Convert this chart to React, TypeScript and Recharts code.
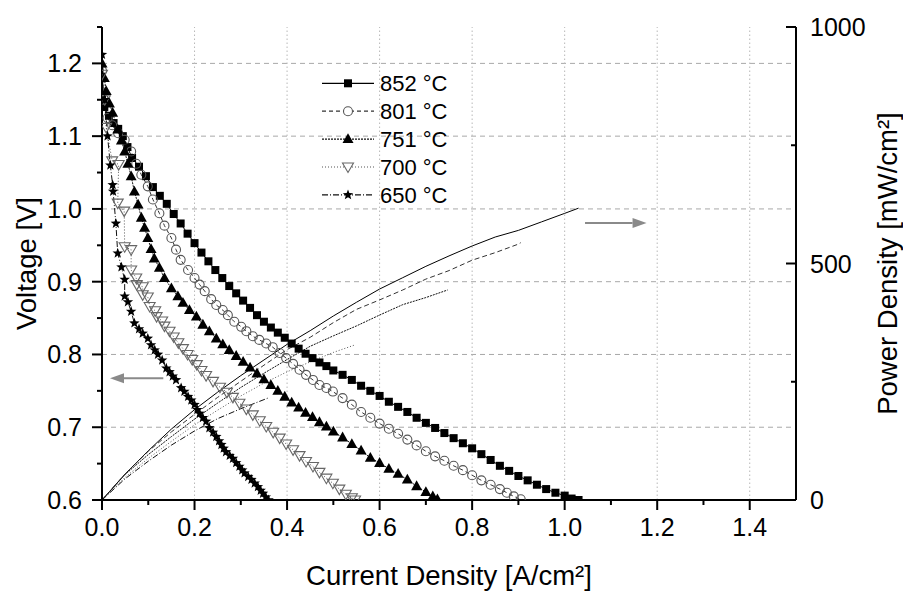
import React from 'react';
import { LineChart, Line, XAxis, YAxis, ReferenceLine, Legend } from 'recharts';

const FONT = '"Liberation Sans", Arial, Helvetica, sans-serif';

// ---- tick values ----
const jTicks = [0, 0.1, 0.2, 0.3, 0.4, 0.5, 0.6, 0.7, 0.8, 0.9, 1.0, 1.1, 1.2, 1.3, 1.4];
const vTicks = [0.6, 0.65, 0.7, 0.75, 0.8, 0.85, 0.9, 0.95, 1.0, 1.05, 1.1, 1.15, 1.2, 1.25];
const pTicks = [0, 250, 500, 750, 1000];
const vGrid = [0.7, 0.8, 0.9, 1.0, 1.1, 1.2];
const jGrid = [0.2, 0.4, 0.6, 0.8, 1.0, 1.2, 1.4];

// ---- voltage curves [current density A/cm², voltage V] ----
const v852 = [
  [0, 1.15], [0.005, 1.14], [0.015, 1.128], [0.025, 1.118], [0.035, 1.11], [0.045, 1.1], [0.055, 1.085],
  [0.065, 1.07], [0.08, 1.058], [0.095, 1.045], [0.11, 1.03], [0.125, 1.018], [0.14, 1.007], [0.155, 0.993],
  [0.17, 0.98], [0.185, 0.966], [0.2, 0.953], [0.215, 0.94], [0.23, 0.928], [0.245, 0.916], [0.26, 0.905],
  [0.275, 0.894], [0.29, 0.884], [0.305, 0.874], [0.32, 0.864], [0.335, 0.854], [0.35, 0.845], [0.365, 0.837],
  [0.38, 0.83], [0.395, 0.823], [0.41, 0.815], [0.425, 0.808], [0.44, 0.801], [0.455, 0.795], [0.47, 0.789],
  [0.485, 0.784], [0.5, 0.778], [0.52, 0.772], [0.54, 0.765], [0.56, 0.757], [0.58, 0.75], [0.6, 0.743],
  [0.62, 0.735], [0.64, 0.728], [0.66, 0.721], [0.68, 0.713], [0.7, 0.706], [0.72, 0.699], [0.74, 0.692],
  [0.76, 0.685], [0.78, 0.678], [0.8, 0.671], [0.82, 0.663], [0.84, 0.655], [0.86, 0.647], [0.88, 0.64],
  [0.9, 0.633], [0.92, 0.627], [0.94, 0.621], [0.96, 0.615], [0.98, 0.61], [1.0, 0.606], [1.015, 0.602], [1.03, 0.6],
];
const v801 = [
  [0, 1.19], [0.005, 1.15], [0.012, 1.125], [0.022, 1.115], [0.035, 1.104], [0.049, 1.095], [0.063, 1.079],
  [0.074, 1.062], [0.085, 1.047], [0.099, 1.031], [0.11, 1.013], [0.124, 0.994], [0.135, 0.977], [0.15, 0.96],
  [0.16, 0.944], [0.17, 0.93], [0.186, 0.916], [0.2, 0.905], [0.211, 0.896], [0.222, 0.887], [0.236, 0.876],
  [0.247, 0.868], [0.261, 0.861], [0.272, 0.854], [0.286, 0.845], [0.301, 0.838], [0.312, 0.832], [0.326, 0.825],
  [0.34, 0.82], [0.355, 0.815], [0.369, 0.81], [0.384, 0.802], [0.398, 0.795], [0.413, 0.787], [0.427, 0.779],
  [0.441, 0.772], [0.456, 0.765], [0.47, 0.758], [0.485, 0.754], [0.499, 0.749], [0.52, 0.74], [0.54, 0.731],
  [0.56, 0.721], [0.58, 0.713], [0.6, 0.705], [0.62, 0.698], [0.64, 0.691], [0.66, 0.683], [0.68, 0.675],
  [0.7, 0.667], [0.72, 0.66], [0.74, 0.654], [0.76, 0.647], [0.78, 0.641], [0.8, 0.634], [0.82, 0.627],
  [0.84, 0.621], [0.86, 0.615], [0.875, 0.61], [0.89, 0.605], [0.905, 0.601],
];
const v751 = [
  [0, 1.2], [0.005, 1.18], [0.009, 1.162], [0.016, 1.145], [0.023, 1.132], [0.034, 1.109], [0.042, 1.094],
  [0.049, 1.079], [0.056, 1.062], [0.063, 1.045], [0.07, 1.024], [0.078, 1.006], [0.085, 0.988], [0.092, 0.974],
  [0.099, 0.96], [0.106, 0.945], [0.113, 0.932], [0.124, 0.919], [0.135, 0.905], [0.15, 0.891], [0.164, 0.88],
  [0.175, 0.871], [0.189, 0.861], [0.204, 0.852], [0.218, 0.841], [0.232, 0.832], [0.247, 0.822], [0.261, 0.814],
  [0.275, 0.806], [0.29, 0.798], [0.305, 0.79], [0.32, 0.782], [0.335, 0.774], [0.35, 0.766], [0.365, 0.758],
  [0.38, 0.75], [0.395, 0.742], [0.41, 0.734], [0.425, 0.727], [0.44, 0.72], [0.455, 0.714], [0.47, 0.707],
  [0.485, 0.701], [0.5, 0.694], [0.52, 0.686], [0.54, 0.677], [0.56, 0.668], [0.58, 0.658], [0.6, 0.651],
  [0.62, 0.643], [0.64, 0.636], [0.66, 0.628], [0.68, 0.619], [0.7, 0.611], [0.715, 0.605], [0.725, 0.601],
];
const v700 = [
  [0, 1.185], [0.006, 1.15], [0.009, 1.112], [0.022, 1.066], [0.036, 1.061], [0.034, 1.008], [0.048, 0.997],
  [0.049, 0.948], [0.063, 0.944], [0.063, 0.916], [0.074, 0.905], [0.075, 0.896], [0.088, 0.893], [0.088, 0.882],
  [0.099, 0.879], [0.103, 0.866], [0.115, 0.86], [0.118, 0.852], [0.13, 0.846], [0.135, 0.839], [0.146, 0.832],
  [0.155, 0.824], [0.165, 0.816], [0.175, 0.808], [0.185, 0.8], [0.195, 0.793], [0.205, 0.786], [0.215, 0.778],
  [0.225, 0.771], [0.24, 0.763], [0.255, 0.755], [0.27, 0.748], [0.283, 0.741], [0.297, 0.733], [0.312, 0.725],
  [0.326, 0.717], [0.341, 0.709], [0.355, 0.701], [0.37, 0.693], [0.384, 0.685], [0.398, 0.677], [0.413, 0.669],
  [0.427, 0.661], [0.441, 0.653], [0.456, 0.646], [0.47, 0.638], [0.485, 0.63], [0.499, 0.623], [0.513, 0.615],
  [0.527, 0.608], [0.54, 0.603], [0.547, 0.6],
];
const v650 = [
  [0, 1.212], [0.006, 1.15], [0.012, 1.1], [0.018, 1.06], [0.023, 1.033], [0.024, 1.024], [0.03, 0.98],
  [0.034, 0.939], [0.042, 0.92], [0.049, 0.903], [0.049, 0.88], [0.056, 0.872], [0.063, 0.859], [0.07, 0.843],
  [0.08, 0.835], [0.088, 0.829], [0.099, 0.822], [0.106, 0.813], [0.114, 0.806], [0.121, 0.8], [0.13, 0.792],
  [0.139, 0.781], [0.146, 0.776], [0.153, 0.77], [0.16, 0.765], [0.171, 0.754], [0.178, 0.749], [0.186, 0.742],
  [0.193, 0.737], [0.2, 0.731], [0.206, 0.724], [0.211, 0.719], [0.218, 0.713], [0.225, 0.708], [0.232, 0.699],
  [0.24, 0.693], [0.247, 0.687], [0.253, 0.681], [0.258, 0.676], [0.263, 0.671], [0.268, 0.666], [0.276, 0.661],
  [0.283, 0.657], [0.29, 0.651], [0.297, 0.646], [0.303, 0.641], [0.308, 0.637], [0.316, 0.632], [0.323, 0.628],
  [0.33, 0.623], [0.337, 0.618], [0.343, 0.613], [0.348, 0.609], [0.354, 0.604], [0.36, 0.6],
];

// ---- power density curves [current density A/cm², power mW/cm²] ----
const p852 = [
  [0, 0], [0.05, 55], [0.1, 104], [0.15, 150], [0.2, 191], [0.25, 228], [0.3, 263], [0.35, 296], [0.4, 329],
  [0.45, 358], [0.5, 389], [0.55, 418], [0.6, 446], [0.65, 470], [0.7, 494], [0.75, 516], [0.8, 537], [0.85, 556],
  [0.9, 570], [0.95, 588], [1.0, 606], [1.03, 617],
];
const p801 = [
  [0, 0], [0.05, 55], [0.1, 103], [0.15, 144], [0.2, 181], [0.25, 217], [0.3, 251], [0.35, 285], [0.4, 318],
  [0.45, 344], [0.5, 375], [0.55, 403], [0.6, 423], [0.65, 444], [0.7, 467], [0.75, 485], [0.8, 507], [0.85, 523],
  [0.9, 541], [0.905, 544],
];
const p751 = [
  [0, 0], [0.05, 54], [0.1, 96], [0.15, 134], [0.2, 171], [0.25, 205], [0.3, 238], [0.35, 268], [0.4, 297],
  [0.45, 325], [0.5, 347], [0.55, 368], [0.6, 391], [0.65, 413], [0.7, 428], [0.747, 444],
];
const p700 = [
  [0, 0], [0.05, 48], [0.1, 88], [0.15, 124], [0.2, 159], [0.25, 190], [0.3, 220], [0.35, 247], [0.4, 271],
  [0.45, 292], [0.5, 312], [0.547, 328],
];
const p650 = [
  [0, 0], [0.05, 45], [0.1, 82], [0.15, 116], [0.2, 146], [0.25, 172], [0.3, 193], [0.36, 216],
];

// ---- annotation arrows (data coords on left axis) ----
const leftArrow = [{ x: 0.1325, y: 0.7674 }, { x: 0.0173, y: 0.7674 }];
const rightArrow = [{ x: 1.044, y: 0.9806 }, { x: 1.177, y: 0.9806 }];

const toVI = (arr: number[][]) => arr.map(([j, v]) => ({ j, v }));
const toP = (arr: number[][]) => arr.map(([j, p]) => ({ j, p }));

type MarkerKind = 'square' | 'circle' | 'triUp' | 'triDown' | 'star';

const SERIES: {
  name: string; vi: number[][]; pw: number[][]; marker: MarkerKind;
  lineColor: string; markerColor: string; dash?: string; pdash?: string;
}[] = [
  { name: '852 °C', vi: v852, pw: p852, marker: 'square', lineColor: '#000', markerColor: '#000', dash: undefined, pdash: undefined },
  { name: '801 °C', vi: v801, pw: p801, marker: 'circle', lineColor: '#333', markerColor: '#555', dash: '4 3', pdash: '5 3' },
  { name: '751 °C', vi: v751, pw: p751, marker: 'triUp', lineColor: '#111', markerColor: '#000', dash: '2 1', pdash: '2 1' },
  { name: '700 °C', vi: v700, pw: p700, marker: 'triDown', lineColor: '#555', markerColor: '#666', dash: '1 2', pdash: '1 2' },
  { name: '650 °C', vi: v650, pw: p650, marker: 'star', lineColor: '#111', markerColor: '#000', dash: '6 2 1 2', pdash: '6 2 1 2' },
];

function starPoints(cx: number, cy: number, ro: number, ri: number) {
  const pts: string[] = [];
  for (let i = 0; i < 10; i++) {
    const r = i % 2 === 0 ? ro : ri;
    const a = -Math.PI / 2 + (i * Math.PI) / 5;
    pts.push(`${cx + r * Math.cos(a)},${cy + r * Math.sin(a)}`);
  }
  return pts.join(' ');
}

function renderMarker(kind: MarkerKind, cx: number, cy: number, color: string, key: string, openFill: string) {
  if (cx == null || cy == null || isNaN(cx) || isNaN(cy)) return <g key={key} />;
  switch (kind) {
    case 'square':
      return <rect key={key} x={cx - 4} y={cy - 4} width={8} height={8} fill={color} />;
    case 'circle':
      return <circle key={key} cx={cx} cy={cy} r={4.5} fill={openFill} stroke={color} strokeWidth={1.1} />;
    case 'triUp':
      return <polygon key={key} points={`${cx},${cy - 5.8} ${cx + 5.5},${cy + 4} ${cx - 5.5},${cy + 4}`} fill={color} />;
    case 'triDown':
      return <polygon key={key} points={`${cx - 5.5},${cy - 4} ${cx + 5.5},${cy - 4} ${cx},${cy + 5.5}`} fill={openFill} stroke={color} strokeWidth={1.1} />;
    case 'star':
    default:
      return <polygon key={key} points={starPoints(cx, cy, 5.5, 2.3)} fill={color} />;
  }
}

const isMajorJ = (v: number) => Math.abs(v * 5 - Math.round(v * 5)) < 1e-6;
const isMajorV = (v: number) => Math.abs(v * 10 - Math.round(v * 10)) < 1e-6;

function XTick(props: any) {
  const { x, y, payload } = props;
  const major = isMajorJ(payload.value);
  return (
    <g>
      <line x1={x} x2={x} y1={y} y2={y + (major ? 10 : 5)} stroke="#000" strokeWidth={2} />
      {major && (
        <text x={x} y={y + 36} textAnchor="middle" fontSize={25} fontFamily={FONT} fill="#000">
          {payload.value.toFixed(1)}
        </text>
      )}
    </g>
  );
}

function LeftTick(props: any) {
  const { x, y, payload } = props;
  const major = isMajorV(payload.value);
  return (
    <g>
      <line x1={x} x2={x - (major ? 10 : 5)} y1={y} y2={y} stroke="#000" strokeWidth={2} />
      {major && (
        <text x={x - 20} y={y + 9} textAnchor="end" fontSize={25} fontFamily={FONT} fill="#000">
          {payload.value.toFixed(1)}
        </text>
      )}
    </g>
  );
}

function RightTick(props: any) {
  const { x, y, payload } = props;
  const major = payload.value % 500 === 0;
  return (
    <g>
      <line x1={x} x2={x - (major ? 10 : 5)} y1={y} y2={y} stroke="#000" strokeWidth={2} />
      {major && (
        <text x={x + 14} y={y + 9} textAnchor="start" fontSize={25} fontFamily={FONT} fill="#000">
          {payload.value}
        </text>
      )}
    </g>
  );
}

function ArrowShape(props: any) {
  const { x1, y1, x2, y2 } = props;
  const ang = Math.atan2(y2 - y1, x2 - x1);
  const hl = 14, hw = 5;
  const bx = x2 - hl * Math.cos(ang);
  const by = y2 - hl * Math.sin(ang);
  const px = -Math.sin(ang) * hw, py = Math.cos(ang) * hw;
  return (
    <g>
      <line x1={x1} y1={y1} x2={bx} y2={by} stroke="#8a8a8a" strokeWidth={2} />
      <polygon points={`${x2},${y2} ${bx + px},${by + py} ${bx - px},${by - py}`} fill="#8a8a8a" />
    </g>
  );
}

function LegendBox() {
  return (
    <svg width={170} height={145} style={{ display: 'block' }}>
      {SERIES.map((s, i) => {
        const y = 15.3 + i * 27.9;
        return (
          <g key={s.name}>
            <line x1={12} x2={64} y1={y} y2={y} stroke={s.lineColor} strokeWidth={1.2} strokeDasharray={s.dash} />
            {renderMarker(s.marker, 38, y, s.markerColor, 'lm' + i, '#fff')}
            <text x={70} y={y + 8} fontSize={22} fontFamily={FONT} fill="#000">{s.name}</text>
          </g>
        );
      })}
    </svg>
  );
}

const titleStyle = { fontSize: 27.5, fontFamily: FONT, fill: '#000' };

export default function App() {
  return (
    <div style={{ position: 'absolute', left: 0, top: 0, width: 903, height: 591, background: '#fff' }}>
      <LineChart width={903} height={591} margin={{ top: 27, right: 0, bottom: 0, left: 0 }}>
        <XAxis
          dataKey="j"
          type="number"
          domain={[0, 1.5]}
          ticks={jTicks}
          interval={0}
          allowDataOverflow
          tickSize={0}
          tickMargin={0}
          tickLine={false}
          tick={(p: any) => <XTick {...p} />}
          axisLine={{ stroke: '#000', strokeWidth: 2 }}
          height={91}
          label={(p: any) => {
            const vb = p.viewBox || { x: 102, y: 500, width: 694, height: 91 };
            return (
              <text x={vb.x + vb.width / 2} y={585} textAnchor="middle" {...titleStyle}>
                Current Density [A/cm²]
              </text>
            );
          }}
        />
        <YAxis
          yAxisId="left"
          type="number"
          domain={[0.6, 1.25]}
          ticks={vTicks}
          interval={0}
          allowDataOverflow
          tickSize={0}
          tickMargin={0}
          tickLine={false}
          tick={(p: any) => <LeftTick {...p} />}
          axisLine={{ stroke: '#000', strokeWidth: 2 }}
          width={102}
          label={(p: any) => {
            const vb = p.viewBox || { x: 0, y: 27, width: 102, height: 473 };
            const cx = 26, cy = vb.y + vb.height / 2;
            return (
              <text x={cx} y={cy} dy="0.355em" textAnchor="middle" transform={`rotate(-90, ${cx}, ${cy})`} {...titleStyle}>
                Voltage [V]
              </text>
            );
          }}
        />
        <YAxis
          yAxisId="right"
          orientation="right"
          type="number"
          domain={[0, 1000]}
          ticks={pTicks}
          interval={0}
          allowDataOverflow
          tickSize={0}
          tickMargin={0}
          tickLine={false}
          tick={(p: any) => <RightTick {...p} />}
          axisLine={{ stroke: '#000', strokeWidth: 2 }}
          width={107}
          label={(p: any) => {
            const vb = p.viewBox || { x: 796, y: 27, width: 107, height: 473 };
            const cx = 887, cy = vb.y + vb.height / 2;
            return (
              <text x={cx} y={cy} dy="0.355em" textAnchor="middle" transform={`rotate(-90, ${cx}, ${cy})`} {...titleStyle}>
                Power Density [mW/cm²]
              </text>
            );
          }}
        />

        {vGrid.map((v) => (
          <ReferenceLine key={'hg' + v} yAxisId="left" y={v} stroke="#a8a8a8" strokeWidth={1} strokeDasharray="5 4" />
        ))}
        {jGrid.map((v) => (
          <ReferenceLine key={'vg' + v} yAxisId="left" x={v} stroke="#b8b8b8" strokeWidth={1} strokeDasharray="1.5 2.5" />
        ))}

        {SERIES.map((s) => (
          <Line
            key={'p' + s.name}
            data={toP(s.pw)}
            dataKey="p"
            yAxisId="right"
            type="linear"
            stroke={s.lineColor}
            strokeWidth={1}
            strokeDasharray={s.pdash}
            dot={false}
            activeDot={false}
            isAnimationActive={false}
            legendType="none"
          />
        ))}

        {SERIES.map((s, si) => (
          <Line
            key={'v' + s.name}
            name={s.name}
            data={toVI(s.vi)}
            dataKey="v"
            yAxisId="left"
            type="linear"
            stroke={s.lineColor}
            strokeWidth={1}
            strokeDasharray={s.dash}
            dot={(p: any) => renderMarker(s.marker, p.cx, p.cy, s.markerColor, `d${si}-${p.index}`, 'none')}
            activeDot={false}
            isAnimationActive={false}
          />
        ))}

        <ReferenceLine yAxisId="left" segment={leftArrow} shape={(p: any) => <ArrowShape {...p} />} />
        <ReferenceLine yAxisId="left" segment={rightArrow} shape={(p: any) => <ArrowShape {...p} />} />

        <Legend
          layout="vertical"
          align="center"
          verticalAlign="middle"
          content={() => <LegendBox />}
          wrapperStyle={{ position: 'absolute', left: 310, top: 68, width: 170, height: 145 }}
        />
      </LineChart>
    </div>
  );
}
